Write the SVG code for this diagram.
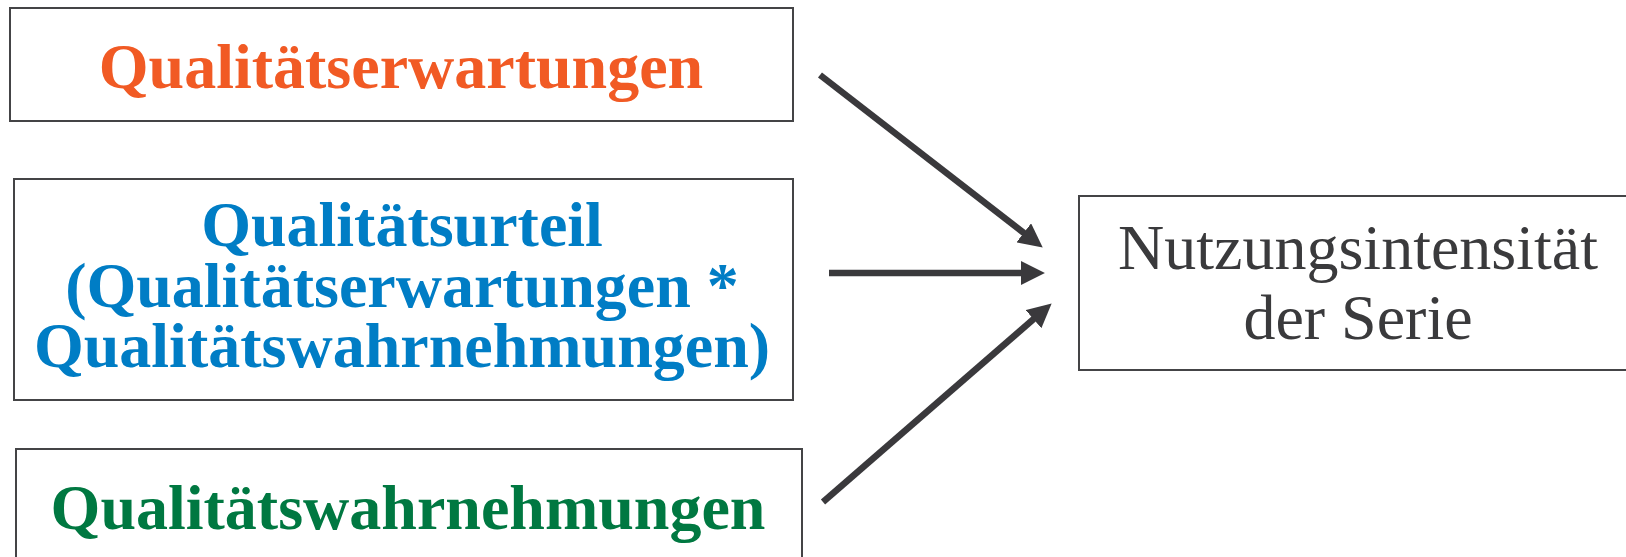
<svg xmlns="http://www.w3.org/2000/svg" width="1626" height="557" viewBox="0 0 1626 557">
<style>
.box{fill:#fff;stroke:#444446;stroke-width:2}
.b{font-family:"Liberation Serif","Times New Roman",serif;font-weight:bold;font-size:64px;text-anchor:middle}
.r{font-family:"Liberation Serif","Times New Roman",serif;font-size:64px;text-anchor:middle;fill:#3a3a3c}
.c{stroke:#3a393c;stroke-width:6.5;fill:none;marker-end:url(#ah)}
</style>
<defs>
<marker id="ah" markerUnits="userSpaceOnUse" markerWidth="24" markerHeight="24" viewBox="0 0 23 23" refX="2" refY="11.5" orient="auto">
<path d="M0,0 L23,11.5 L0,23 z" fill="#3a393c"/>
</marker>
</defs>
<rect width="1626" height="557" fill="#fff"/>
<g id="node-erwartungen">
<rect class="box" x="10" y="8" width="783" height="113"/>
<text class="b" x="401" y="88" fill="#f15a24">Qualitätserwartungen</text>
</g>
<g id="node-urteil">
<rect class="box" x="14" y="179" width="779" height="221"/>
<text class="b" x="402" y="246" fill="#007dc5">Qualitätsurteil</text>
<text class="b" x="402" y="307" fill="#007dc5">(Qualitätserwartungen *</text>
<text class="b" x="402" y="367" fill="#007dc5">Qualitätswahrnehmungen)</text>
</g>
<g id="node-wahrnehmungen">
<rect class="box" x="16" y="449" width="786" height="120"/>
<text class="b" x="408" y="529" fill="#007841">Qualitätswahrnehmungen</text>
</g>
<g id="node-nutzung">
<rect class="box" x="1079" y="196" width="560" height="174"/>
<text class="r" x="1358" y="269">Nutzungsintensität</text>
<text class="r" x="1358" y="339">der Serie</text>
</g>
<g id="connectors">
<line class="c" x1="820" y1="75" x2="1025.4" y2="234.1"/>
<line class="c" x1="829" y1="273" x2="1023" y2="273"/>
<line class="c" x1="823" y1="502" x2="1035.1" y2="317.8"/>
</g>
</svg>
